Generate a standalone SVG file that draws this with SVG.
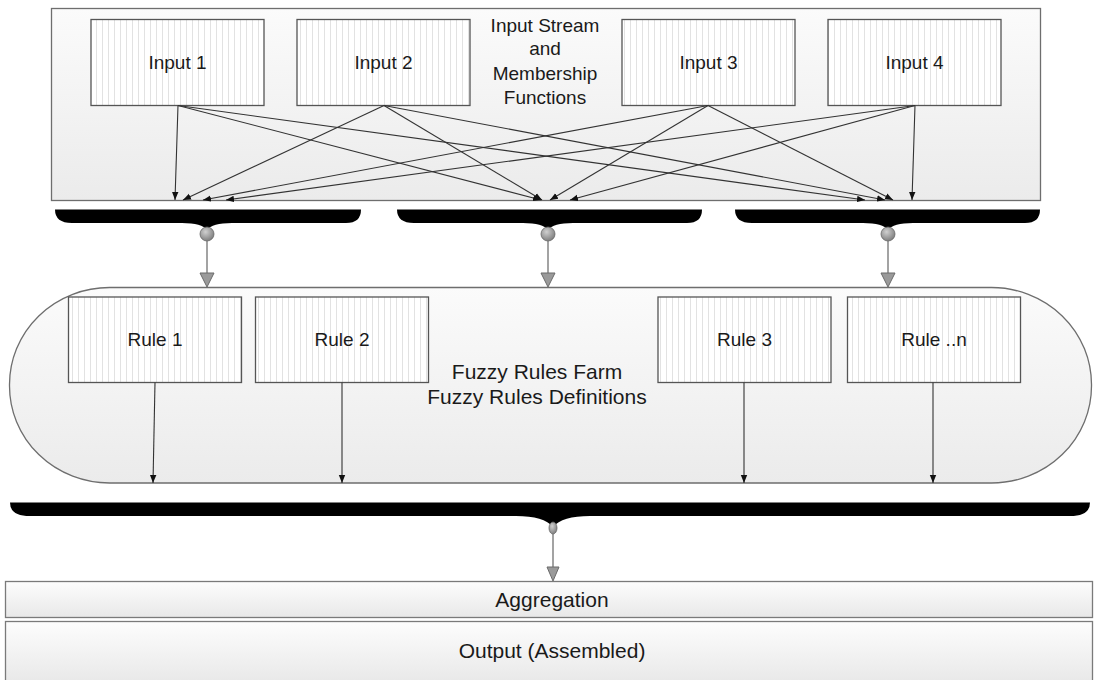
<svg xmlns="http://www.w3.org/2000/svg" width="1097" height="680" viewBox="0 0 1097 680">
<defs>
  <linearGradient id="panelGrad" x1="0" y1="0" x2="0" y2="1">
    <stop offset="0" stop-color="#fbfbfb"/>
    <stop offset="1" stop-color="#ebebeb"/>
  </linearGradient>
  <linearGradient id="barGrad" x1="0" y1="0" x2="0" y2="1">
    <stop offset="0" stop-color="#fdfdfd"/>
    <stop offset="1" stop-color="#e8e8e8"/>
  </linearGradient>
  <radialGradient id="ball" cx="0.4" cy="0.35" r="0.7">
    <stop offset="0" stop-color="#d0d0d0"/>
    <stop offset="1" stop-color="#7a7a7a"/>
  </radialGradient>
  <pattern id="stripes" patternUnits="userSpaceOnUse" width="6" height="10">
    <rect width="6" height="10" fill="#ffffff"/>
    <line x1="0.5" y1="0" x2="0.5" y2="10" stroke="#e2e2e2" stroke-width="1"/>
  </pattern>
  <marker id="arr" markerUnits="userSpaceOnUse" markerWidth="8" markerHeight="8" viewBox="0 0 8 8" refX="8" refY="4" orient="auto">
    <path d="M0,0.8 L8,4 L0,7.2 Z" fill="#111"/>
  </marker>
</defs>
<style>
  .panel { fill: url(#panelGrad); stroke: #6e6e6e; stroke-width: 1.3; }
  .box { fill: url(#stripes); stroke: #555; stroke-width: 1.3; }
  .bar { fill: url(#barGrad); stroke: #7a7a7a; stroke-width: 1.3; }
  .lbl { font-family: "Liberation Sans", Arial, sans-serif; font-size: 19px; fill: #1a1a1a; text-anchor: middle; }
  .big { font-family: "Liberation Sans", Arial, sans-serif; font-size: 21px; fill: #1a1a1a; text-anchor: middle; }
  .conn { stroke: #333; stroke-width: 1.1; fill: none; marker-end: url(#arr); }
  .brace { fill: #000; }
  .knob { fill: url(#ball); stroke: #666; stroke-width: 0.8; }
  .feed { stroke: #666; stroke-width: 1.2; fill: none; }
  .gtri { fill: #9a9a9a; stroke: #6a6a6a; stroke-width: 1; }
</style>

<g id="input-panel">
  <rect class="panel" x="51.5" y="8.5" width="989" height="192"/>
  <text class="lbl" x="545" y="32">Input Stream</text>
  <text class="lbl" x="545" y="55">and</text>
  <text class="lbl" x="545" y="80">Membership</text>
  <text class="lbl" x="545" y="104">Functions</text>
</g>

<g id="input1"><rect class="box" x="91" y="19.5" width="173" height="86"/><text class="lbl" x="177.5" y="69">Input 1</text></g>
<g id="input2"><rect class="box" x="297" y="19.5" width="173" height="86"/><text class="lbl" x="383.5" y="69">Input 2</text></g>
<g id="input3"><rect class="box" x="622" y="19.5" width="173" height="86"/><text class="lbl" x="708.5" y="69">Input 3</text></g>
<g id="input4"><rect class="box" x="828" y="19.5" width="173" height="86"/><text class="lbl" x="914.5" y="69">Input 4</text></g>

<g id="brace1">
  <path class="brace" d="M55,209.5 H361 Q361,223 346,223 H232 Q212,223 207,230 Q202,223 182,223 H72 Q55,223 55,209.5 Z"/>
  <circle class="knob" cx="207" cy="234" r="7"/>
</g>
<g id="brace2">
  <path class="brace" d="M397,209.5 H702 Q702,223 687,223 H573 Q553,223 548,230 Q543,223 523,223 H414 Q397,223 397,209.5 Z"/>
  <circle class="knob" cx="548" cy="234" r="7"/>
</g>
<g id="brace3">
  <path class="brace" d="M735,209.5 H1040 Q1040,223 1025,223 H913 Q893,223 888,230 Q883,223 863,223 H752 Q735,223 735,209.5 Z"/>
  <circle class="knob" cx="888" cy="234" r="7"/>
</g>

<g id="rules-panel">
  <rect class="panel" x="9.5" y="287.5" width="1082" height="195.5" rx="100" ry="97"/>
  <text class="big" x="537" y="379" font-size="22">Fuzzy Rules Farm</text>
  <text class="big" x="537" y="404" font-size="22">Fuzzy Rules Definitions</text>
</g>

<g id="rule1"><rect class="box" x="68.5" y="297" width="173" height="85.5"/><text class="lbl" x="155" y="346">Rule 1</text></g>
<g id="rule2"><rect class="box" x="255.5" y="297" width="173" height="85.5"/><text class="lbl" x="342" y="346">Rule 2</text></g>
<g id="rule3"><rect class="box" x="658" y="297" width="173" height="85.5"/><text class="lbl" x="744.5" y="346">Rule 3</text></g>
<g id="rulen"><rect class="box" x="847.5" y="297" width="173" height="85.5"/><text class="lbl" x="934" y="346">Rule ..n</text></g>

<g id="brace-main">
  <path class="brace" d="M10,502.5 H1090 Q1090,516 1070,516 H590 Q562,516 553,527 Q544,516 516,516 H30 Q10,516 10,502.5 Z"/>
  <ellipse class="knob" cx="553" cy="528" rx="4" ry="6"/>
</g>

<g id="aggregation">
  <rect class="bar" x="5.5" y="581.5" width="1087" height="36"/>
  <text class="big" x="552" y="607">Aggregation</text>
</g>
<g id="output">
  <rect class="bar" x="5.5" y="621.5" width="1087" height="62"/>
  <text class="big" x="552" y="658">Output (Assembled)</text>
</g>

<g id="connectors">
  <line class="conn" x1="178" y1="105.5" x2="175" y2="200"/>
  <line class="conn" x1="178" y1="105.5" x2="541" y2="200"/>
  <line class="conn" x1="178" y1="105.5" x2="865" y2="200"/>
  <line class="conn" x1="384" y1="105.5" x2="183" y2="200"/>
  <line class="conn" x1="384" y1="105.5" x2="542" y2="200"/>
  <line class="conn" x1="384" y1="105.5" x2="885" y2="200"/>
  <line class="conn" x1="708" y1="105.5" x2="203" y2="200"/>
  <line class="conn" x1="708" y1="105.5" x2="550" y2="200"/>
  <line class="conn" x1="708" y1="105.5" x2="893" y2="200"/>
  <line class="conn" x1="915" y1="105.5" x2="226" y2="200"/>
  <line class="conn" x1="915" y1="105.5" x2="570" y2="200"/>
  <line class="conn" x1="915" y1="105.5" x2="912" y2="200"/>

  <line class="feed" x1="207" y1="241" x2="207" y2="274"/>
  <polygon class="gtri" points="200,273 214,273 207,287"/>
  <line class="feed" x1="548" y1="241" x2="548" y2="274"/>
  <polygon class="gtri" points="541,273 555,273 548,287"/>
  <line class="feed" x1="888" y1="241" x2="888" y2="274"/>
  <polygon class="gtri" points="881,273 895,273 888,287"/>

  <line class="conn" x1="155" y1="382.5" x2="153" y2="483"/>
  <line class="conn" x1="342" y1="382.5" x2="342" y2="483"/>
  <line class="conn" x1="744" y1="382.5" x2="744" y2="483"/>
  <line class="conn" x1="933" y1="382.5" x2="933" y2="483"/>

  <line class="feed" x1="553" y1="534" x2="553" y2="568"/>
  <polygon class="gtri" points="547,567 559,567 553,581"/>
</g>
</svg>
